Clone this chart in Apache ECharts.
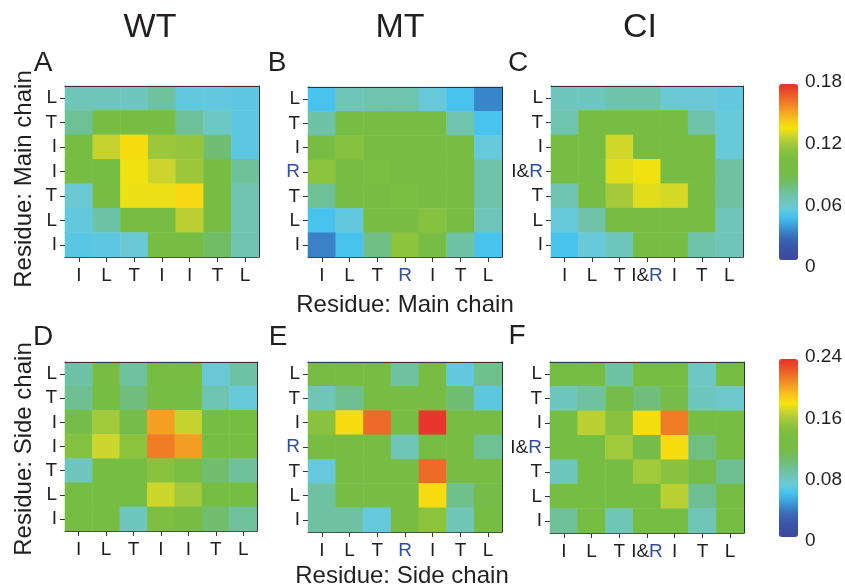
<!DOCTYPE html>
<html><head><meta charset="utf-8">
<script src="https://cdn.jsdelivr.net/npm/echarts@6/dist/echarts.min.js"></script>
<style>html,body{margin:0;padding:0;background:#fff}#c{width:845px;height:588px}</style>
</head><body><div id="c"></div>
<script>
// Residue labels (x: left->right, y: bottom->top)
const wtLabels = ['I','L','T','I','I','T','L'];
const mtLabels = ['I','L','T','R','I','T','L'];
const ciLabels = ['I','L','T','I&R','I','T','L'];
const panelLetters = ['A','B','C','D','E','F'];
const columnTitles = ['WT','MT','CI'];
const mainScaleTicks = [0, 0.06, 0.12, 0.18];
const sideScaleTicks = [0, 0.08, 0.16, 0.24];

// Matrices, rows listed top -> bottom, columns left -> right
const wtMain = [
 [0.061,0.061,0.060,0.068,0.051,0.051,0.050],
 [0.070,0.094,0.094,0.094,0.069,0.058,0.050],
 [0.093,0.126,0.137,0.117,0.115,0.077,0.050],
 [0.093,0.093,0.134,0.127,0.117,0.094,0.069],
 [0.055,0.094,0.133,0.133,0.138,0.094,0.063],
 [0.051,0.066,0.094,0.094,0.124,0.094,0.063],
 [0.049,0.050,0.054,0.094,0.094,0.080,0.063]
];
const mtMain = [
 [0.045,0.061,0.064,0.064,0.052,0.045,0.030],
 [0.066,0.094,0.094,0.094,0.094,0.064,0.045],
 [0.094,0.110,0.096,0.095,0.095,0.095,0.052],
 [0.112,0.094,0.104,0.094,0.094,0.094,0.065],
 [0.070,0.094,0.094,0.104,0.094,0.094,0.065],
 [0.045,0.051,0.094,0.094,0.110,0.094,0.061],
 [0.029,0.045,0.073,0.112,0.094,0.066,0.045]
];
const ciMain = [
 [0.060,0.060,0.065,0.065,0.054,0.054,0.051],
 [0.064,0.094,0.094,0.094,0.094,0.065,0.053],
 [0.094,0.100,0.128,0.100,0.094,0.094,0.053],
 [0.094,0.094,0.131,0.134,0.099,0.094,0.067],
 [0.063,0.094,0.119,0.131,0.129,0.094,0.067],
 [0.053,0.065,0.094,0.094,0.099,0.094,0.061],
 [0.045,0.053,0.060,0.094,0.094,0.065,0.061]
];
const wtSide = [
 [0.088,0.125,0.090,0.125,0.125,0.072,0.088],
 [0.094,0.122,0.100,0.122,0.122,0.084,0.070],
 [0.118,0.158,0.118,0.203,0.168,0.122,0.122],
 [0.145,0.170,0.150,0.214,0.204,0.122,0.122],
 [0.080,0.124,0.124,0.148,0.135,0.104,0.092],
 [0.124,0.124,0.124,0.170,0.158,0.122,0.122],
 [0.124,0.124,0.080,0.142,0.130,0.104,0.091]
];
const mtSide = [
 [0.125,0.125,0.125,0.090,0.125,0.068,0.096],
 [0.082,0.094,0.125,0.125,0.125,0.103,0.067],
 [0.148,0.183,0.220,0.125,0.238,0.125,0.125],
 [0.125,0.125,0.125,0.082,0.125,0.125,0.093],
 [0.069,0.125,0.125,0.125,0.220,0.125,0.125],
 [0.089,0.125,0.125,0.125,0.183,0.096,0.118],
 [0.089,0.089,0.069,0.125,0.150,0.082,0.122]
];
const ciSide = [
 [0.122,0.122,0.088,0.122,0.122,0.078,0.122],
 [0.080,0.090,0.118,0.100,0.118,0.080,0.075],
 [0.120,0.165,0.148,0.182,0.214,0.120,0.120],
 [0.120,0.120,0.158,0.118,0.183,0.098,0.120],
 [0.080,0.120,0.120,0.158,0.148,0.118,0.094],
 [0.120,0.120,0.120,0.120,0.165,0.094,0.120],
 [0.092,0.120,0.082,0.120,0.120,0.082,0.120]
];

const colormap = ['#3b4a9e','#3b4fa2','#3a58aa','#3a68b8','#3a86cb','#3fa8e0','#47c3ee','#68c9da',
  '#6fc6bc','#6ec2a0','#6fbe7c','#72bd58','#76bd44','#77bd43','#7abe42','#8cc33d','#a8c93a',
  '#cdd62c','#f5e40c','#f7c81a','#f6aa22','#f28a25','#ee6a28','#ea4c29','#e6302a'];
const FONT = 'Liberation Sans, Arial, sans-serif';
const TXT = '#231f20';
const BLUE = '#2e4ea3';

const panels = [
 {m: wtMain, labels: wtLabels, grid:{left:65, top:86, width:194, height:171}},
 {m: mtMain, labels: mtLabels, grid:{left:308, top:87, width:194, height:170}},
 {m: ciMain, labels: ciLabels, grid:{left:551, top:86, width:192, height:171}},
 {m: wtSide, labels: wtLabels, grid:{left:65, top:362, width:192, height:169}},
 {m: mtSide, labels: mtLabels, grid:{left:308, top:362, width:194, height:170}},
 {m: ciSide, labels: ciLabels, grid:{left:550, top:362, width:194, height:171}}
];

function fmtLabel(lab){
  if (lab === 'R') return '{r|R}';
  if (lab === 'I&R') return '{k|I&}{r|R}';
  return '{k|' + lab + '}';
}
const rich = {
  k:{fontSize:19, color:TXT, fontFamily:FONT},
  r:{fontSize:19, color:BLUE, fontFamily:FONT}
};

const grid = [], xAxis = [], yAxis = [], series = [];
panels.forEach((p, i) => {
  grid.push(p.grid);
  const cats = p.labels.map((_, k) => String(k));
  xAxis.push({gridIndex:i, type:'category', data:cats, position:'bottom',
    axisLine:{show:true, lineStyle:{color:'#333', width:1}},
    axisTick:{show:true, alignWithLabel:true, interval:0, length:5, lineStyle:{color:'#333'}},
    axisLabel:{margin:9, interval:0, formatter:(v, idx) => fmtLabel(p.labels[idx]), rich:rich},
    splitLine:{show:false}});
  yAxis.push({gridIndex:i, type:'category', data:cats, position:'left',
    axisLine:{show:true, lineStyle:{color:'#333', width:1}},
    axisTick:{show:true, alignWithLabel:true, interval:0, length:5, lineStyle:{color:'#333'}},
    axisLabel:{margin:8, interval:0, formatter:(v, idx) => fmtLabel(p.labels[idx]), rich:rich},
    splitLine:{show:false}});
  const data = [];
  p.m.forEach((row, r) => row.forEach((v, c) => data.push([c, 6 - r, v])));
  series.push({type:'heatmap', xAxisIndex:i, yAxisIndex:i, data:data,
    itemStyle:{borderWidth:0}, emphasis:{disabled:true}, silent:true, z:2});
});
// frame (top/right edges)
panels.forEach((p, i) => {
  const cats = p.labels.map((_, k) => String(k));
  xAxis.push({gridIndex:i, type:'category', data:cats, position:'top',
    axisLine:{show:true, onZero:false, lineStyle:{color:'#333', width:1}}, axisTick:{show:false}, axisLabel:{show:false}, z:5});
  yAxis.push({gridIndex:i, type:'category', data:cats, position:'right',
    axisLine:{show:true, onZero:false, lineStyle:{color:'#333', width:1}}, axisTick:{show:false}, axisLabel:{show:false}, z:5});
});
// colorbar label axes
const cbars = [
  {ticks: mainScaleTicks, grid:{left:779, top:82, width:19, height:185}},
  {ticks: sideScaleTicks, grid:{left:779, top:357, width:19, height:184}}
];
cbars.forEach((cb) => {
  const gi = grid.length;
  grid.push(cb.grid);
  const t = cb.ticks;
  xAxis.push({gridIndex:gi, type:'value', show:false, min:0, max:1});
  yAxis.push({gridIndex:gi, type:'value', position:'right', min:t[0], max:t[t.length-1], interval:t[1]-t[0],
    axisLine:{show:false}, axisTick:{show:false}, splitLine:{show:false},
    axisLabel:{margin:8, fontSize:19, color:TXT, fontFamily:FONT,
      formatter:(v) => v === 0 ? '0' : v.toFixed(2)}});
});

const visualMap = [
  {type:'continuous', seriesIndex:[0,1,2], min:mainScaleTicks[0], max:mainScaleTicks[3], left:779, top:84,
   itemWidth:19, itemHeight:176, padding:0, calculable:false, hoverLink:false, text:null, showLabel:false,
   inRange:{color:colormap}},
  {type:'continuous', seriesIndex:[3,4,5], min:sideScaleTicks[0], max:sideScaleTicks[3], left:779, top:359,
   itemWidth:19, itemHeight:178, padding:0, calculable:false, hoverLink:false, text:null, showLabel:false,
   inRange:{color:colormap}}
];

const txt = (text, x, y, size, extra) => Object.assign({type:'text', x:x, y:y, silent:true,
  style:{text:text, font: size + 'px ' + FONT, fill:TXT, textAlign:'center', textVerticalAlign:'middle'}}, extra || {});
const letterPos = [[43,63],[277,63],[518,63],[43,337],[278,337],[517,336]];
const titleX = [150, 400, 640];
const graphic = [];
columnTitles.forEach((t, i) => graphic.push(txt(t, titleX[i], 28, 34)));
panelLetters.forEach((l, i) => graphic.push(txt(l, letterPos[i][0], letterPos[i][1], 28)));
graphic.push(txt('Residue: Main chain', 24, 179, 24, {rotation: Math.PI/2}));
graphic.push(txt('Residue: Side chain', 24, 449, 24, {rotation: Math.PI/2}));
graphic.push(txt('Residue: Main chain', 405, 305, 24));
graphic.push(txt('Residue: Side chain', 402, 576, 24));

const chart = echarts.init(document.getElementById('c'), null, {renderer:'canvas'});
chart.setOption({animation:false, backgroundColor:'#fff', grid, xAxis, yAxis, series, visualMap, graphic});
</script></body></html>
